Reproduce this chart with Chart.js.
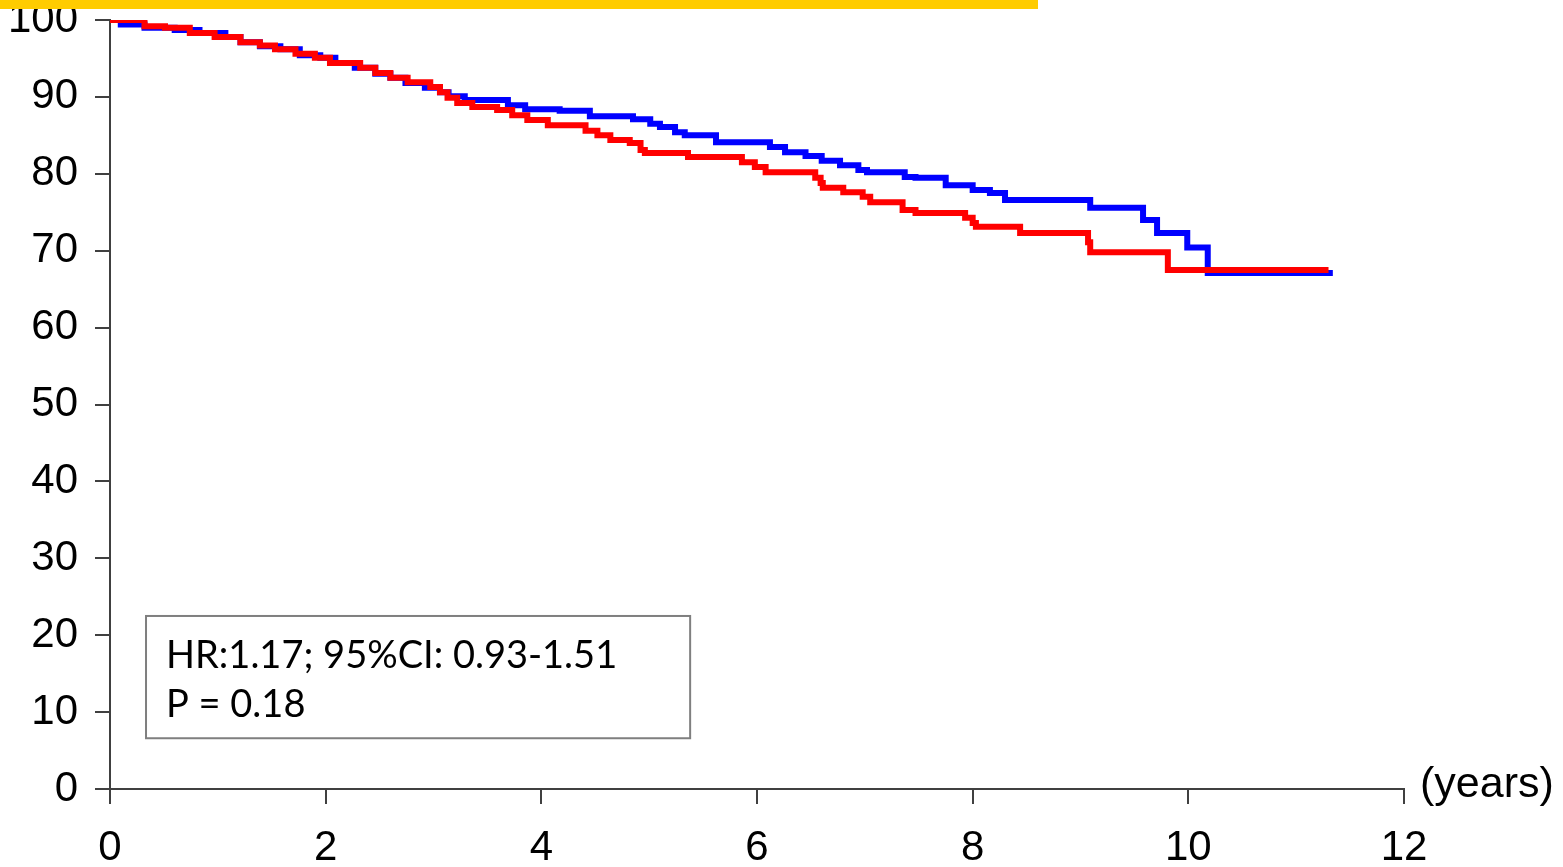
<!DOCTYPE html>
<html>
<head>
<meta charset="utf-8">
<script src="https://cdn.jsdelivr.net/npm/chart.js@4"></script>
<style>
  body { margin: 0; background: #fff; }
  #wrap { width: 1563px; height: 867px; position: relative; }
</style>
</head>
<body>
<div id="wrap"><canvas id="kmChart"></canvas></div>
<script>
/* survival data (years, % surviving) */
const redYears = [0, 0.32, 0.51, 0.74, 0.97, 1.21, 1.39, 1.53, 1.72, 1.90, 2.04, 2.32, 2.46, 2.60, 2.76,
    2.97, 3.06, 3.13, 3.22, 3.36, 3.59, 3.73, 3.87, 4.06, 4.41, 4.52, 4.64, 4.82, 4.92, 4.96,
    5.36, 5.86, 5.98, 6.08, 6.54, 6.59, 6.61, 6.80, 6.98, 7.05, 7.35, 7.47, 7.93, 8.00, 8.03,
    8.44, 9.07, 9.09, 9.81, 11.30];
const redSurv = [100, 99.2, 99.0, 98.3, 97.8, 97.1, 96.7, 96.2, 95.6, 95.1, 94.4, 93.8, 93.1, 92.5, 91.9,
    91.3, 90.6, 89.9, 89.2, 88.7, 88.3, 87.6, 87.0, 86.3, 85.6, 85.0, 84.4, 84.0, 83.1, 82.7,
    82.2, 81.5, 80.9, 80.2, 79.5, 78.8, 78.2, 77.6, 77.0, 76.3, 75.3, 74.9, 74.3, 73.6, 73.1,
    72.3, 71.1, 69.8, 67.5, 67.5];

const blueYears = [0, 0.10, 0.32, 0.60, 0.83, 1.07, 1.21, 1.39, 1.58, 1.76, 1.95, 2.09, 2.27, 2.46, 2.60,
    2.74, 2.92, 3.06, 3.14, 3.29, 3.69, 3.85, 4.17, 4.45, 4.85, 5.01, 5.10, 5.24, 5.33, 5.62,
    6.12, 6.26, 6.45, 6.60, 6.77, 6.94, 7.02, 7.37, 7.47, 7.75, 8.00, 8.16, 8.30, 9.09, 9.58,
    9.71, 9.99, 10.18, 11.34];
const blueSurv = [100, 99.4, 99.0, 98.7, 98.3, 97.8, 97.1, 96.6, 96.2, 95.4, 95.1, 94.4, 93.8, 93.0, 92.5,
    91.8, 91.2, 90.6, 90.1, 89.6, 88.9, 88.4, 88.2, 87.5, 87.1, 86.5, 86.1, 85.4, 85.0, 84.1,
    83.5, 82.8, 82.3, 81.7, 81.1, 80.5, 80.2, 79.6, 79.5, 78.5, 77.9, 77.5, 76.6, 75.6, 74.0,
    72.3, 70.4, 67.1, 67.1];

const xTicks = [0, 2, 4, 6, 8, 10, 12];
const yTicks = [0, 10, 20, 30, 40, 50, 60, 70, 80, 90, 100];
const statLines = ['HR:1.17; 95%CI: 0.93-1.51', 'P = 0.18'];
const xUnit = '(years)';

function toPoints(xs, ys) {
    return xs.map((x, i) => ({x: x, y: ys[i]}));
}

const axisColor = '#404040';
const tickFont = {family: 'Liberation Sans, Arial, sans-serif', size: 42};

// annotation box + unit label + yellow band on top
const extras = {
    id: 'extras',
    afterDraw(chart) {
        const ctx = chart.ctx;
        const xs = chart.scales.x, ys = chart.scales.y;
        ctx.save();
        // stats box (data coords)
        const bx0 = xs.getPixelForValue(0.334), bx1 = xs.getPixelForValue(5.38);
        const by0 = ys.getPixelForValue(22.5), by1 = ys.getPixelForValue(6.6);
        ctx.fillStyle = '#fff';
        ctx.fillRect(bx0, by0, bx1 - bx0, by1 - by0);
        ctx.strokeStyle = '#7f7f7f';
        ctx.lineWidth = 2;
        ctx.strokeRect(bx0, by0, bx1 - bx0, by1 - by0);
        ctx.fillStyle = '#000';
        ctx.font = '38px Lato, sans-serif';
        ctx.textBaseline = 'alphabetic';
        ctx.textAlign = 'left';
        ctx.fillText(statLines[0], bx0 + 20, by0 + 52);
        ctx.fillText(statLines[1], bx0 + 20, by0 + 101);

        // unit label next to x axis
        ctx.font = '43px Liberation Sans, Arial, sans-serif';
        ctx.textBaseline = 'middle';
        ctx.fillText(xUnit, chart.chartArea.right + 16, ys.getPixelForValue(0) - 4);

        // yellow band
        ctx.fillStyle = '#FFCC00';
        ctx.fillRect(0, 0, 1038, 9);
        ctx.restore();
    }
};

const ctx1 = document.getElementById('kmChart').getContext('2d');
const kmChart = new Chart(ctx1, {
    type: 'line',
    data: {
        datasets: [{
            data: toPoints(redYears, redSurv),
            borderColor: '#FF0000',
            borderWidth: 6,
            stepped: true,
            pointRadius: 0,
            borderCapStyle: 'butt',
            borderJoinStyle: 'miter'
        }, {
            data: toPoints(blueYears, blueSurv),
            borderColor: '#0000FF',
            borderWidth: 6,
            stepped: true,
            pointRadius: 0,
            borderCapStyle: 'butt',
            borderJoinStyle: 'miter'
        }]
    },
    options: {
        responsive: true,
        maintainAspectRatio: false,
        animation: false,
        layout: {padding: {top: 20, right: 159, left: 0, bottom: 0}},
        scales: {
            x: {
                type: 'linear',
                min: 0,
                max: 12,
                afterBuildTicks: s => { s.ticks = xTicks.map(v => ({value: v})); },
                afterFit: s => { s.height = 78; s.paddingLeft = 0; s.paddingRight = 0; },
                ticks: {color: '#000', font: tickFont, padding: 19, maxRotation: 0},
                grid: {drawOnChartArea: false, tickLength: 15, color: axisColor, lineWidth: 2},
                border: {color: axisColor, width: 2}
            },
            y: {
                min: 0,
                max: 100,
                afterBuildTicks: s => { s.ticks = yTicks.map(v => ({value: v})); },
                afterFit: s => { s.width = 110; s.paddingTop = 0; s.paddingBottom = 0; },
                ticks: {color: '#000', font: tickFont, padding: 17},
                grid: {drawOnChartArea: false, tickLength: 15, color: axisColor, lineWidth: 2},
                border: {color: axisColor, width: 2}
            }
        },
        plugins: {
            legend: {display: false},
            tooltip: {enabled: false}
        }
    },
    plugins: [extras]
});
</script>
</body>
</html>
